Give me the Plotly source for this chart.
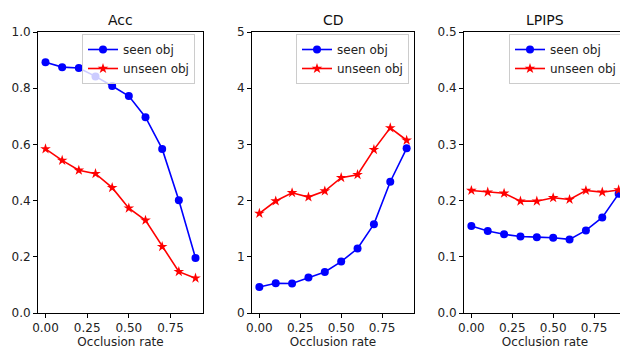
import plotly.graph_objects as go

occlusion = [0.0, 0.1, 0.2, 0.3, 0.4, 0.5, 0.6, 0.7, 0.8, 0.9]

acc_seen = [0.892, 0.875, 0.872, 0.842, 0.808, 0.772, 0.697, 0.584, 0.401, 0.196]
acc_unseen = [0.584, 0.543, 0.508, 0.496, 0.446, 0.373, 0.330, 0.236, 0.147, 0.124]

cd_seen = [0.464, 0.529, 0.525, 0.630, 0.731, 0.915, 1.147, 1.581, 2.336, 2.931]
cd_unseen = [1.772, 1.992, 2.140, 2.063, 2.170, 2.408, 2.461, 2.907, 3.294, 3.074]

lpips_seen = [0.155, 0.146, 0.140, 0.136, 0.135, 0.134, 0.131, 0.147, 0.170, 0.212]
lpips_unseen = [0.218, 0.215, 0.213, 0.199, 0.199, 0.205, 0.202, 0.218, 0.215, 0.219]

titles = ["Acc", "CD", "LPIPS"]
y_ranges = [[0, 1.0], [0, 5], [0, 0.5]]
y_ticks = [[0, 0.2, 0.4, 0.6, 0.8, 1.0], [0, 1, 2, 3, 4, 5], [0, 0.1, 0.2, 0.3, 0.4, 0.5]]
y_labels = [["0.0", "0.2", "0.4", "0.6", "0.8", "1.0"],
            ["0", "1", "2", "3", "4", "5"],
            ["0.0", "0.1", "0.2", "0.3", "0.4", "0.5"]]
x_ticks = [0.0, 0.25, 0.5, 0.75]
x_labels = ["0.00", "0.25", "0.50", "0.75"]

# page body adds an 8px margin; build the figure in window pixels minus that offset
OFF = 8
W, H = 628 - OFF, 351 - OFF
panels_px = [(38, 203), (252, 414), (464, 626)]
top_px, bot_px = 32, 313
legend_px = [(195, 34), (409, 34), (622, 34)]

series = [(acc_seen, acc_unseen), (cd_seen, cd_unseen), (lpips_seen, lpips_unseen)]

FONT = "DejaVu Sans"
fig = go.Figure()
layout = dict(width=W, height=H, margin=dict(l=0, r=0, t=0, b=0, autoexpand=False),
              template="none",
              plot_bgcolor="white", paper_bgcolor="white",
              font=dict(family=FONT, size=12, color="#222"), annotations=[])

def px_x(v):
    return (v - OFF) / W

def px_y(v):
    return 1 - (v - OFF) / H

for i in range(3):
    sfx = "" if i == 0 else str(i + 1)
    leg = "legend" if i == 0 else f"legend{i + 1}"
    seen, unseen = series[i]
    fig.add_trace(go.Scatter(x=occlusion, y=seen, name="seen obj", mode="lines+markers",
                             line=dict(color="#0000ff", width=1.6),
                             marker=dict(symbol="circle", size=8, color="#0000ff"),
                             xaxis="x" + sfx, yaxis="y" + sfx, legend=leg))
    fig.add_trace(go.Scatter(x=occlusion, y=unseen, name="unseen obj", mode="lines+markers",
                             line=dict(color="#ff0000", width=1.6),
                             marker=dict(symbol="star", size=8, color="#ff0000", line=dict(width=0)),
                             xaxis="x" + sfx, yaxis="y" + sfx, legend=leg))
    x0, x1 = panels_px[i]
    ax_common = dict(showline=True, linecolor="black", linewidth=1, mirror=True,
                     ticks="outside", ticklen=4, tickcolor="black", showgrid=False,
                     zeroline=False, automargin=False,
                     tickfont=dict(size=12, family=FONT, color="#222"))
    layout["xaxis" + sfx] = dict(domain=[px_x(x0), px_x(x1)], anchor="y" + sfx,
                                 range=[-0.045, 0.945], tickvals=x_ticks, ticktext=x_labels,
                                 title=dict(text="Occlusion rate", font=dict(size=12, family=FONT, color="#222"),
                                            standoff=2), **ax_common)
    layout["yaxis" + sfx] = dict(domain=[px_y(bot_px), px_y(top_px)], anchor="x" + sfx,
                                 range=y_ranges[i], tickvals=y_ticks[i], ticktext=y_labels[i],
                                 **ax_common)
    layout["annotations"].append(dict(text=titles[i], x=px_x((x0 + x1) / 2), y=px_y(20),
                                      xref="paper", yref="paper", showarrow=False,
                                      xanchor="center", yanchor="middle",
                                      font=dict(size=14, family=FONT, color="#111")))
    lx, ly = legend_px[i]
    layout[leg] = dict(x=px_x(lx), y=px_y(ly), xanchor="right", yanchor="top",
                       xref="paper", yref="paper",
                       bgcolor="rgba(255,255,255,0.8)", bordercolor="#cccccc", borderwidth=1,
                       font=dict(size=12, family=FONT, color="#222"),
                       tracegroupgap=0, itemwidth=30)

fig.update_layout(**layout)
fig.write_html("out.html")
